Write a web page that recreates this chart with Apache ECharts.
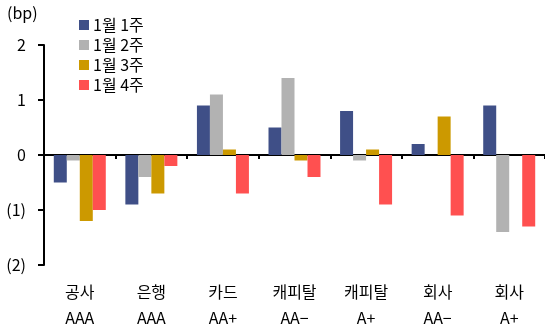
<!DOCTYPE html>
<html>
<head>
<meta charset="utf-8">
<script src="https://cdn.jsdelivr.net/npm/echarts@6/dist/echarts.min.js"></script>
<style>
  html, body { margin: 0; padding: 0; background: #fff; }
  #chart { width: 545px; height: 334px; }
</style>
</head>
<body>
<div id="chart"></div>
<script>
// Weekly spread change by issuer group (bp)
const categories = ['공사\nAAA', '은행\nAAA', '카드\nAA+', '캐피탈\nAA−', '캐피탈\nA+', '회사\nAA−', '회사\nA+'];
const seriesNames = ['1월 1주', '1월 2주', '1월 3주', '1월 4주'];
const week1 = [-0.5, -0.9, 0.9, 0.5, 0.8, 0.2, 0.9];
const week2 = [-0.1, -0.4, 1.1, 1.4, -0.1, 0.0, -1.4];
const week3 = [-1.2, -0.7, 0.1, -0.1, 0.1, 0.7, 0.0];
const week4 = [-1.0, -0.2, -0.7, -0.4, -0.9, -1.1, -1.3];
const yTicks = { '2': '2', '1': '1', '0': '0', '-1': '(1)', '-2': '(2)' };

const colors = ['#3F4F87', '#B2B2B2', '#CC9900', '#FF5050'];
const font = '"Noto Sans CJK KR", "Noto Sans", sans-serif';
const values = [week1, week2, week3, week4];

const chart = echarts.init(document.getElementById('chart'));
chart.setOption({
  animation: false,
  textStyle: { fontFamily: font },
  color: colors,
  graphic: [{
    type: 'text', left: 7, top: 5,
    style: { text: '(bp)', font: '16px ' + font, fill: '#000' }
  }],
  legend: {
    orient: 'vertical', left: 74, top: 12,
    itemWidth: 10, itemHeight: 10, itemGap: 4,
    icon: 'rect',
    textStyle: { fontSize: 16, color: '#000', fontFamily: font, padding: [0, 0, 0, -1] },
    data: seriesNames
  },
  grid: { left: 44, top: 45, width: 504, bottom: 69, containLabel: false },
  xAxis: [{
    type: 'category', data: categories,
    axisLine: { onZero: true, lineStyle: { color: '#000', width: 2 } },
    axisTick: { show: true, length: 4, lineStyle: { color: '#000', width: 2 } },
    axisLabel: { show: false }
  }, {
    type: 'category', data: categories, position: 'bottom',
    axisLine: { show: false, onZero: false },
    axisTick: { show: false },
    axisLabel: { color: '#000', fontSize: 16, lineHeight: 26, margin: 14, fontFamily: font }
  }],
  yAxis: {
    type: 'value', min: -2, max: 2, interval: 1,
    axisLine: { show: true, lineStyle: { color: '#000', width: 2 } },
    axisTick: { show: true, length: 6, lineStyle: { color: '#000', width: 2 } },
    splitLine: { show: false },
    axisLabel: {
      color: '#000', fontSize: 16, margin: 18, fontFamily: font,
      formatter: v => yTicks[String(v)]
    }
  },
  series: seriesNames.map((name, i) => ({
    name, type: 'bar', xAxisIndex: 0, data: values[i],
    barWidth: 13, barGap: '0%',
    itemStyle: { color: colors[i] }
  }))
});
</script>
</body>
</html>
